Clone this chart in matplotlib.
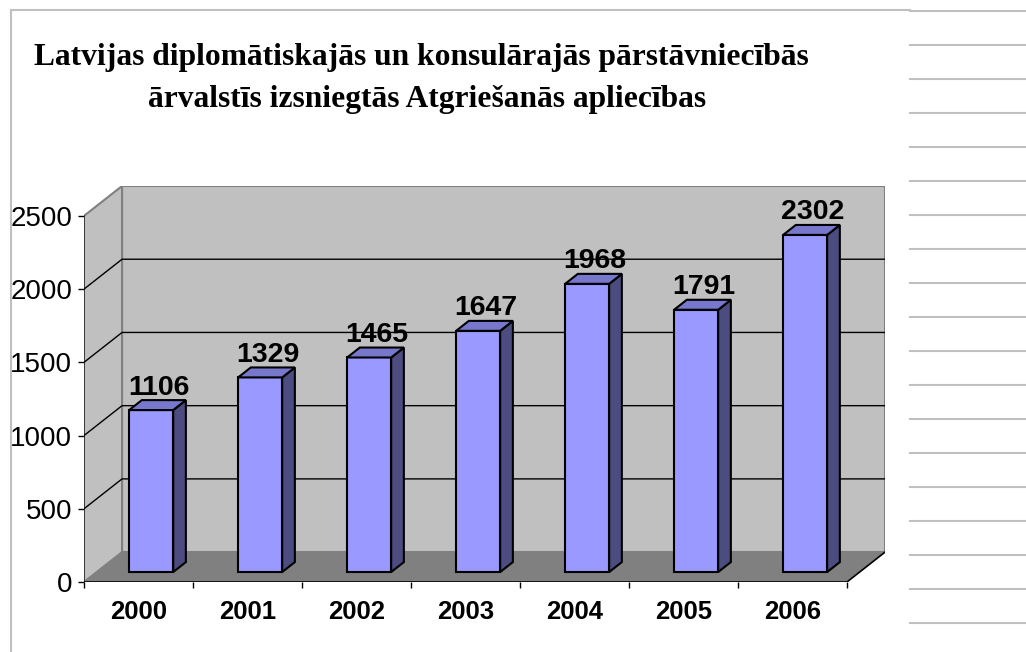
import matplotlib
matplotlib.use("Agg")
import matplotlib.pyplot as plt
from matplotlib.patches import Polygon
from matplotlib.lines import Line2D

years = ["2000", "2001", "2002", "2003", "2004", "2005", "2006"]
counts = [1106, 1329, 1465, 1647, 1968, 1791, 2302]
yticks = [0, 500, 1000, 1500, 2000, 2500]
title_lines = ["Latvijas diplomātiskajās un konsulārajās pārstāvniecībās",
               "ārvalstīs izsniegtās Atgriešanās apliecības"]

plt.rcParams['font.family'] = ['Liberation Sans', 'DejaVu Sans']

W, H = 1026, 652
fig = plt.figure(figsize=(W / 100, H / 100), dpi=100)

# depth of the fake 3d box, in data units
ddx = 0.349
ddy = 204
ymax = 2500
n = len(years)

ax = fig.add_axes([84 / W, 70 / H, 801 / W, 396 / H])
ax.set_xlim(-0.5, n - 0.5 + ddx)
ax.set_ylim(0, ymax + ddy)
for s in ax.spines.values():
    s.set_visible(False)

wall = '#c0c0c0'
# back wall
ax.add_patch(Polygon([(-0.5 + ddx, ddy), (n - 0.5 + ddx, ddy),
                      (n - 0.5 + ddx, ymax + ddy), (-0.5 + ddx, ymax + ddy)],
                     closed=True, fc=wall, ec='#808080', lw=1.5, zorder=1))
# side wall
ax.add_patch(Polygon([(-0.5, 0), (-0.5 + ddx, ddy), (-0.5 + ddx, ymax + ddy), (-0.5, ymax)],
                     closed=True, fc=wall, ec='#808080', lw=1.5, zorder=1))
ax.plot([-0.5, -0.5], [0, ymax], color='#303030', lw=1.2, zorder=2)
# floor
ax.add_patch(Polygon([(-0.5, 0), (n - 0.5, 0), (n - 0.5 + ddx, ddy), (-0.5 + ddx, ddy)],
                     closed=True, fc='#808080', ec='none', zorder=1))
ax.plot([-0.5, n - 0.5, n - 0.5 + ddx], [0, 0, ddy], color='black', lw=1.2, zorder=2)

# gridlines
for v in yticks[1:-1]:
    ax.plot([-0.5, -0.5 + ddx, n - 0.5 + ddx], [v, v + ddy, v + ddy],
            color='black', lw=1, zorder=2)

# bars
bw = 0.404
fx = ddx / 3
fy = ddy / 3
xs = [i + fx for i in range(n)]
ax.bar(xs, counts, width=bw, bottom=fy, color='#9999ff', edgecolor='black',
       linewidth=1.5, zorder=4)
for x, v in zip(xs, counts):
    xl, xr = x - bw / 2, x + bw / 2
    top = fy + v
    ax.add_patch(Polygon([(xr, fy), (xr + fx, fy + fy), (xr + fx, top + fy), (xr, top)],
                         closed=True, fc='#4c4c80', ec='black', lw=1.5, zorder=4))
    ax.add_patch(Polygon([(xl, top), (xr, top), (xr + fx, top + fy), (xl + fx, top + fy)],
                         closed=True, fc='#7777cc', ec='black', lw=1.5, zorder=4))
    ax.annotate(str(v), (x + fx * 0.6, top + fy), xytext=(0, 4), textcoords='offset points',
                ha='center', va='baseline', fontsize=20.5, fontweight='bold', zorder=5)

# axes ticks
ax.set_yticks(yticks)
ax.tick_params(axis='y', direction='out', length=4.5, width=1, pad=4, labelsize=20)
ax.set_xticks([i - 0.5 for i in range(n + 1)])
ax.set_xticklabels([])
ax.set_xticks(range(n), minor=True)
ax.set_xticklabels(years, minor=True, fontsize=18.5, fontweight='bold')
ax.tick_params(axis='x', which='major', direction='out', length=4.5, width=1)
ax.tick_params(axis='x', which='minor', length=0, pad=13)

for (cx, cy), line in zip([(421, 58), (427, 100)], title_lines):
    fig.text(cx / W, 1 - cy / H, line, ha='center', va='center', fontsize=22.7,
             fontweight='bold', family=['Liberation Serif', 'DejaVu Serif'])

# sheet frame lines
frame = '#c0c0c0'
fig.add_artist(Line2D([11 / W, 11 / W], [0, 1 - 10 / H], color=frame, lw=1.5))
fig.add_artist(Line2D([11 / W, 910 / W], [1 - 10 / H, 1 - 10 / H], color=frame, lw=1.5))
for k in range(19):
    y = 1 - (11 + 34 * k) / H
    fig.add_artist(Line2D([910 / W, 1], [y, y], color=frame, lw=1.5))

fig.savefig('out.png', dpi=100, facecolor='white')
